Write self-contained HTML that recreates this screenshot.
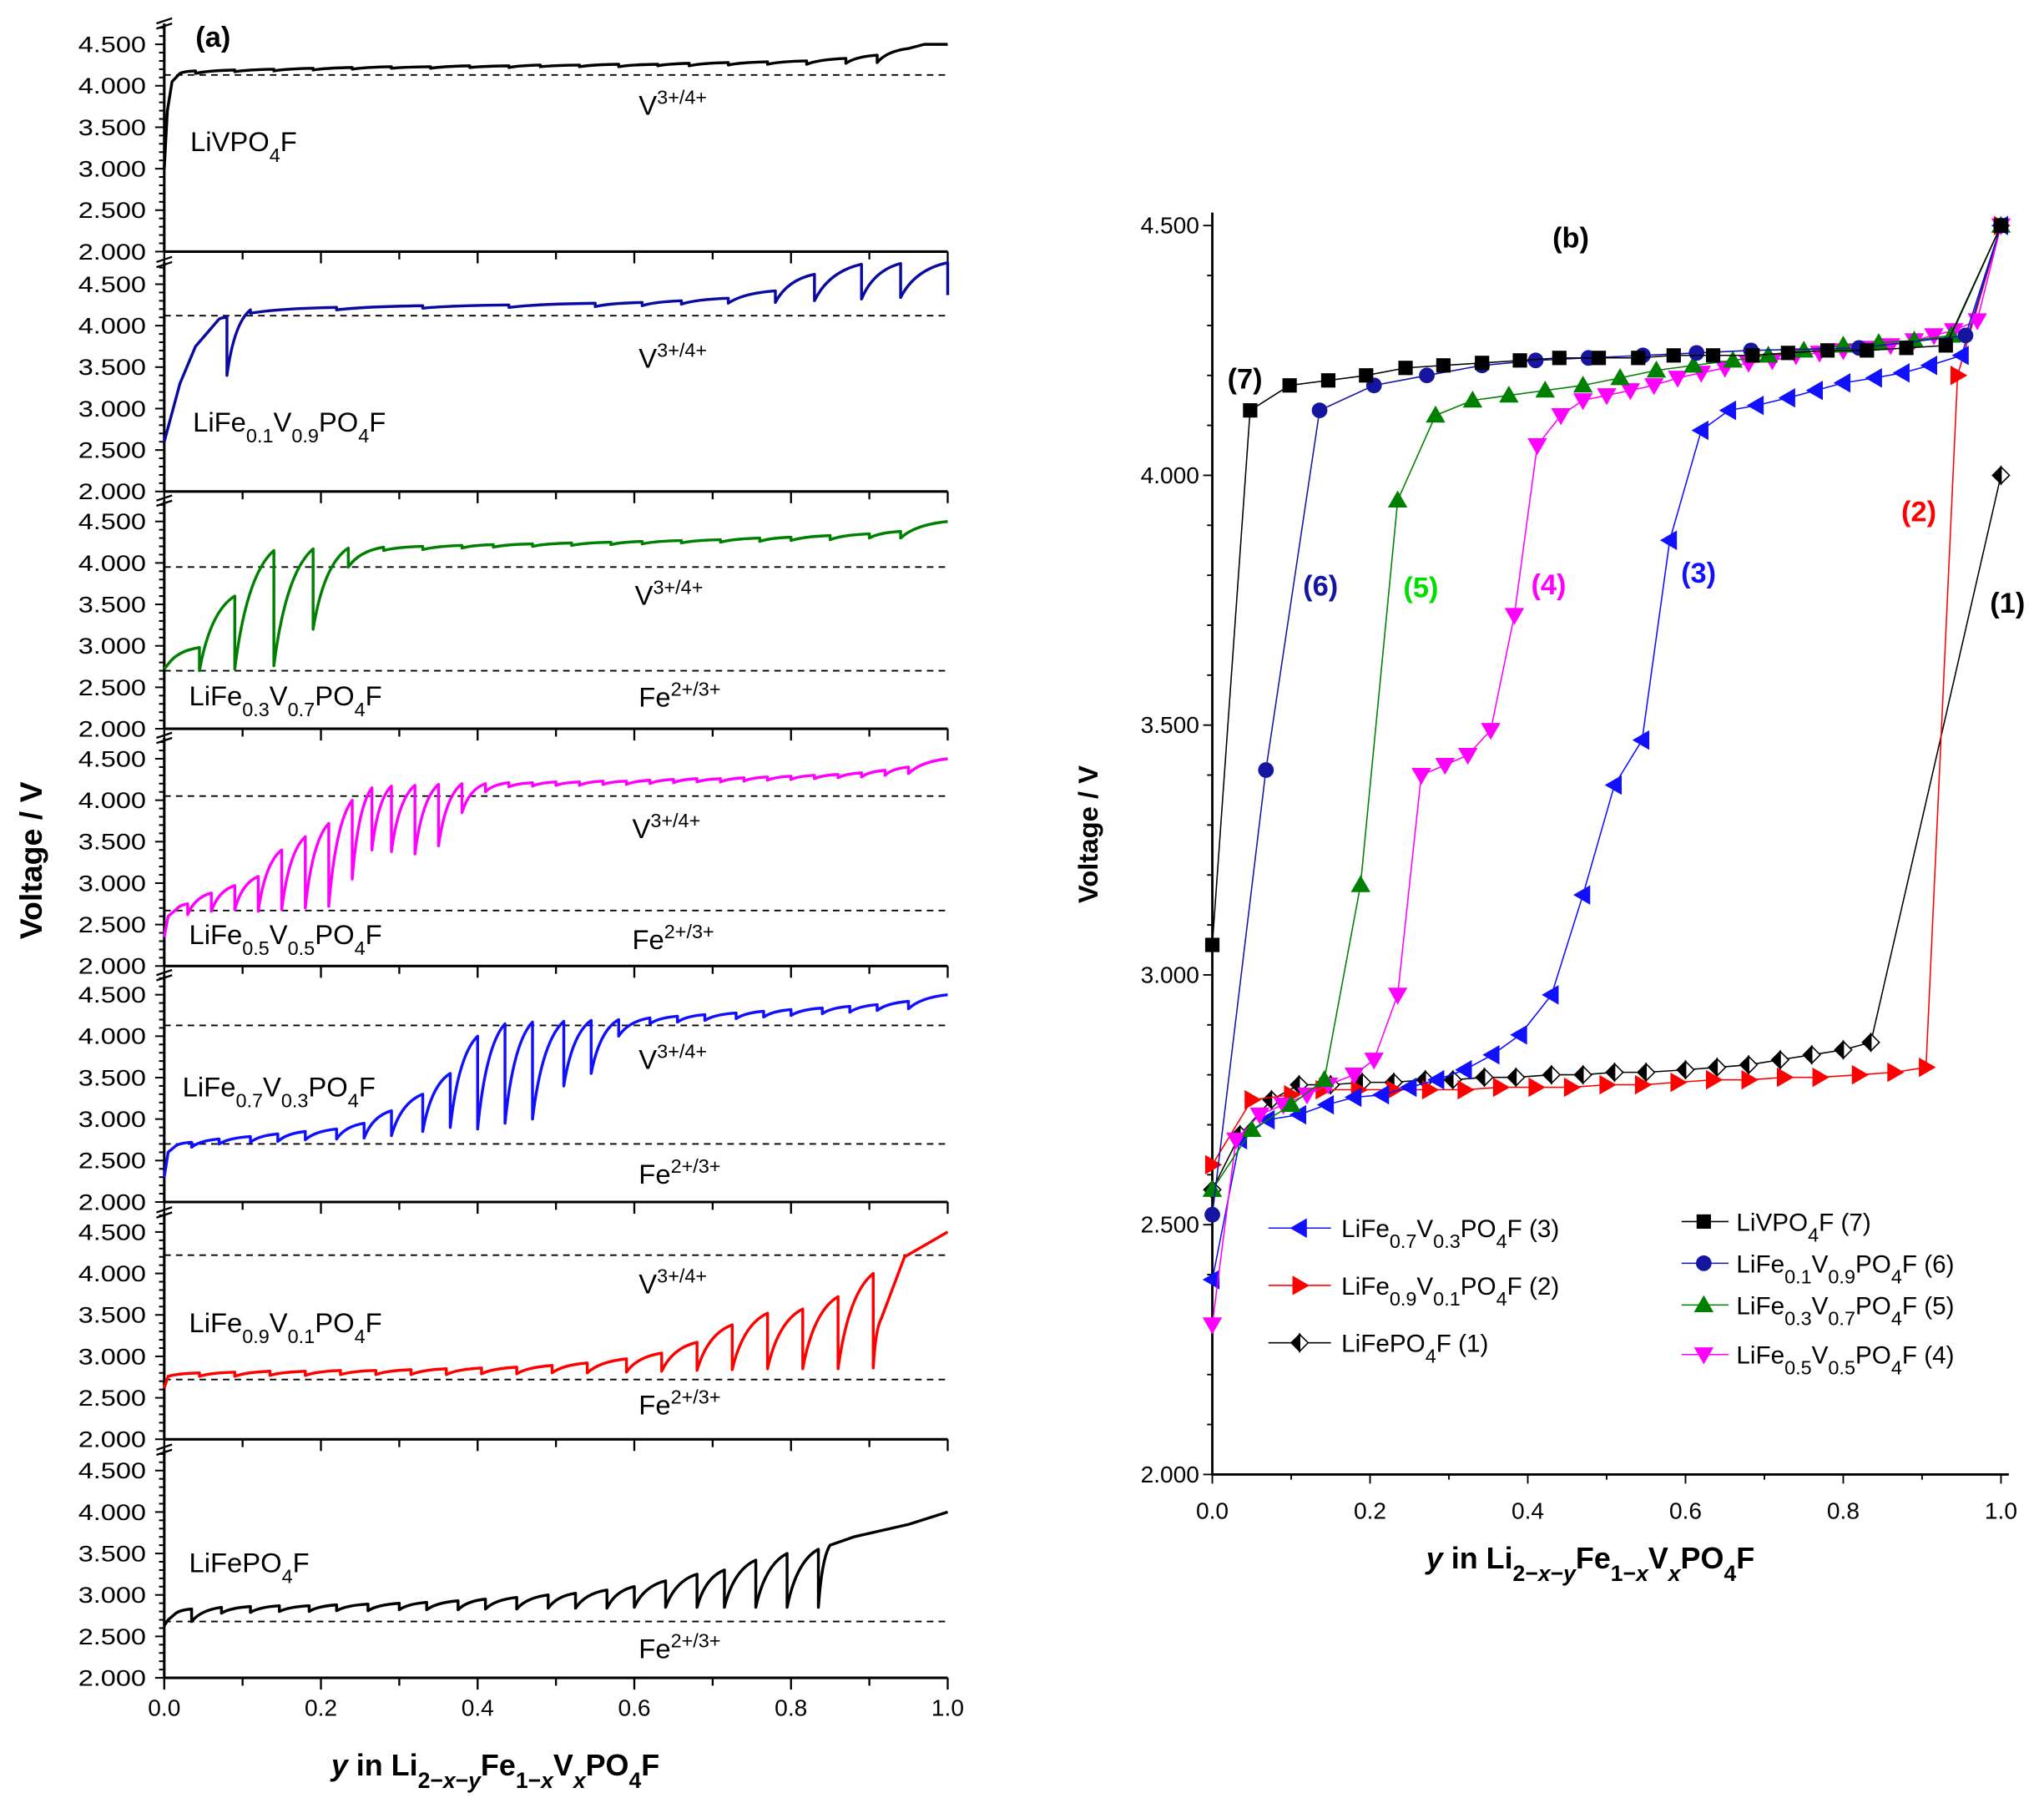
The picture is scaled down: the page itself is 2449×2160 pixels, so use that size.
<!DOCTYPE html>
<html><head><meta charset="utf-8"><style>
html,body{margin:0;padding:0;background:#fff}
svg{display:block}
text{font-family:"Liberation Sans",sans-serif}
</style></head><body>
<svg id="fig" width="2449" height="2160" viewBox="0 0 1568 1383" preserveAspectRatio="none" xmlns="http://www.w3.org/2000/svg">
<g id="pa"></g>
<g id="pb"></g>
</svg>
<script>
// ---------- Panel (a) data: GITT teeth (x position, voltage before relaxation, voltage after) ----------
const aNames = ["LiVPO4F","LiFe0.1V0.9PO4F","LiFe0.3V0.7PO4F","LiFe0.5V0.5PO4F","LiFe0.7V0.3PO4F","LiFe0.9V0.1PO4F","LiFePO4F"];
const aColors = ["#000000","#0a0aa0","#008000","#ff00ff","#1010ff","#ff0000","#000000"];
const aVLine = [4.13,4.12,3.95,4.05,4.13,4.22,null];
const aFeLine = [null,null,2.70,2.67,2.70,2.72,2.68];
// series 1 LiVPO4F
const a1Start = [[0,3.0],[0.004,3.7],[0.01,4.05],[0.02,4.15]];
const a1X = [0.04,0.09,0.14,0.19,0.24,0.29,0.34,0.39,0.44,0.48,0.53,0.58,0.63,0.67,0.72,0.77,0.82,0.87,0.91];
const a1Top = [4.18,4.19,4.20,4.21,4.22,4.23,4.23,4.24,4.24,4.25,4.25,4.26,4.26,4.27,4.28,4.29,4.30,4.33,4.37];
const a1Bot = [4.15,4.17,4.18,4.19,4.20,4.21,4.21,4.22,4.22,4.23,4.23,4.23,4.24,4.24,4.25,4.26,4.26,4.27,4.28];
const a1End = [[0.95,4.45],[0.97,4.50],[1.0,4.50]];
// series 2 LiFe0.1V0.9PO4F
const a2Start = [[0,2.6],[0.02,3.3],[0.04,3.75],[0.07,4.08]];
const a2X = [0.08,0.11,0.22,0.33,0.44,0.55,0.61,0.66,0.72,0.78,0.83,0.89,0.94,1.0];
const a2Top = [4.10,4.19,4.22,4.24,4.25,4.27,4.28,4.30,4.33,4.42,4.62,4.74,4.75,4.76];
const a2Bot = [3.40,4.15,4.19,4.21,4.22,4.23,4.24,4.26,4.27,4.28,4.30,4.32,4.34,4.37];
const a2End = [];
// series 3 LiFe0.3V0.7PO4F
const a3Start = [[0,2.72],[0.005,2.78]];
const a3X = [0.045,0.09,0.14,0.19,0.235,0.28,0.33,0.38,0.42,0.47,0.52,0.57,0.61,0.66,0.71,0.76,0.8,0.85,0.9,0.94];
const a3Top = [2.98,3.60,4.15,4.17,4.18,4.19,4.20,4.21,4.22,4.23,4.24,4.25,4.26,4.27,4.28,4.30,4.31,4.33,4.35,4.38];
const a3Bot = [2.70,2.72,2.76,3.20,3.95,4.15,4.16,4.18,4.19,4.20,4.21,4.22,4.23,4.24,4.25,4.26,4.27,4.28,4.30,4.30];
const a3End = [[1.0,4.5]];
// series 4 LiFe0.5V0.5PO4F
const a4Start = [[0,2.35],[0.005,2.6],[0.015,2.68]];
const a4X = [0.03,0.06,0.09,0.12,0.15,0.18,0.21,0.24,0.265,0.29,0.32,0.35,0.38,0.41,0.44,0.47,0.5,0.53,0.56,0.59,0.62,0.65,0.68,0.71,0.74,0.77,0.8,0.83,0.86,0.89,0.92,0.95];
const a4Top = [2.75,2.88,2.97,3.08,3.40,3.56,3.72,4.00,4.15,4.17,4.18,4.19,4.20,4.20,4.21,4.21,4.22,4.22,4.23,4.23,4.24,4.25,4.26,4.26,4.27,4.28,4.29,4.30,4.31,4.33,4.36,4.40];
const a4Bot = [2.62,2.66,2.68,2.66,2.68,2.70,2.72,3.05,3.40,3.38,3.35,3.45,3.85,4.10,4.16,4.17,4.18,4.18,4.19,4.19,4.20,4.21,4.22,4.22,4.23,4.24,4.25,4.26,4.27,4.28,4.30,4.32];
const a4End = [[1.0,4.5]];
// series 5 LiFe0.7V0.3PO4F
const a5Start = [[0,2.3],[0.005,2.6],[0.015,2.68]];
const a5X = [0.035,0.07,0.11,0.145,0.18,0.22,0.255,0.29,0.33,0.365,0.40,0.435,0.47,0.51,0.545,0.58,0.62,0.655,0.69,0.73,0.765,0.8,0.84,0.875,0.91,0.95];
const a5Top = [2.72,2.76,2.79,2.82,2.85,2.88,2.95,3.10,3.30,3.55,4.00,4.15,4.17,4.18,4.19,4.20,4.22,4.24,4.26,4.28,4.30,4.32,4.34,4.36,4.38,4.42];
const a5Bot = [2.66,2.70,2.72,2.73,2.75,2.76,2.77,2.80,2.85,2.90,2.88,2.95,3.00,3.40,3.55,4.00,4.15,4.17,4.19,4.21,4.23,4.25,4.27,4.29,4.31,4.33];
const a5End = [[1.0,4.5]];
// series 6 LiFe0.9V0.1PO4F
const a6Start = [[0,2.62],[0.005,2.76]];
const a6X = [0.045,0.09,0.135,0.18,0.225,0.27,0.315,0.36,0.405,0.45,0.495,0.54,0.59,0.635,0.68,0.725,0.77,0.815,0.86,0.905];
const a6Top = [2.80,2.81,2.82,2.82,2.83,2.83,2.84,2.85,2.86,2.87,2.89,2.92,2.97,3.04,3.17,3.38,3.52,3.57,3.72,4.00];
const a6Bot = [2.76,2.76,2.77,2.77,2.78,2.78,2.78,2.78,2.79,2.79,2.80,2.80,2.81,2.82,2.83,2.84,2.85,2.85,2.85,2.86];
const a6End = [[0.915,3.45],[0.945,4.2],[1.0,4.5]];
// series 7 LiFePO4F
const a7Start = [[0,2.63],[0.005,2.7],[0.015,2.78]];
const a7X = [0.035,0.073,0.11,0.147,0.185,0.22,0.26,0.3,0.335,0.375,0.41,0.45,0.49,0.525,0.565,0.6,0.64,0.68,0.715,0.755,0.795,0.835];
const a7Top = [2.83,2.85,2.86,2.87,2.87,2.88,2.89,2.90,2.91,2.93,2.95,2.97,3.00,3.02,3.06,3.10,3.17,3.25,3.30,3.42,3.50,3.55];
const a7Bot = [2.68,2.78,2.79,2.80,2.80,2.81,2.81,2.82,2.82,2.82,2.83,2.83,2.84,2.84,2.84,2.85,2.85,2.85,2.85,2.85,2.85,2.85];
const a7End = [[0.85,3.6],[0.88,3.7],[0.95,3.85],[1.0,4.0]];

const aSeries = [
 [a1Start,a1X,a1Top,a1Bot,a1End],[a2Start,a2X,a2Top,a2Bot,a2End],[a3Start,a3X,a3Top,a3Bot,a3End],
 [a4Start,a4X,a4Top,a4Bot,a4End],[a5Start,a5X,a5Top,a5Bot,a5End],[a6Start,a6X,a6Top,a6Bot,a6End],
 [a7Start,a7X,a7Top,a7Bot,a7End]];
const aYTicks = ["2.000","2.500","3.000","3.500","4.000","4.500"];
const aXTicks = ["0.0","0.2","0.4","0.6","0.8","1.0"];

// ---------- Panel (b) data ----------
const b7x=[0,0.048,0.098,0.147,0.195,0.245,0.293,0.342,0.39,0.44,0.49,0.54,0.585,0.635,0.685,0.73,0.78,0.83,0.88,0.93,1.0];
const b7v=[3.06,4.13,4.18,4.19,4.2,4.215,4.22,4.225,4.23,4.235,4.235,4.235,4.24,4.24,4.24,4.245,4.25,4.25,4.255,4.26,4.5];
const b6x=[0,0.068,0.136,0.205,0.272,0.342,0.41,0.477,0.546,0.614,0.683,0.82,0.955,1.0];
const b6v=[2.52,3.41,4.13,4.18,4.2,4.22,4.23,4.235,4.24,4.245,4.25,4.255,4.28,4.5];
const b5x=[0,0.05,0.1,0.142,0.188,0.235,0.283,0.33,0.376,0.422,0.47,0.517,0.563,0.61,0.66,0.705,0.75,0.8,0.845,0.89,0.937,1.0];
const b5v=[2.57,2.69,2.74,2.79,3.18,3.95,4.12,4.15,4.16,4.17,4.18,4.195,4.21,4.22,4.23,4.24,4.25,4.26,4.265,4.27,4.28,4.5];
const b4x=[0,0.03,0.06,0.09,0.12,0.147,0.18,0.205,0.235,0.265,0.295,0.324,0.353,0.383,0.412,0.442,0.47,0.5,0.53,0.56,0.59,0.62,0.65,0.68,0.71,0.74,0.77,0.8,0.83,0.86,0.89,0.915,0.94,0.97,1.0];
const b4v=[2.30,2.67,2.72,2.74,2.76,2.78,2.8,2.83,2.96,3.40,3.42,3.44,3.49,3.72,4.06,4.12,4.15,4.16,4.17,4.18,4.195,4.205,4.215,4.225,4.23,4.24,4.245,4.25,4.255,4.26,4.27,4.28,4.29,4.31,4.5];
const b3x=[0,0.035,0.07,0.11,0.145,0.18,0.215,0.25,0.285,0.32,0.355,0.39,0.43,0.47,0.51,0.545,0.58,0.62,0.655,0.69,0.73,0.765,0.8,0.84,0.875,0.91,0.95,1.0];
const b3v=[2.39,2.67,2.71,2.72,2.74,2.755,2.76,2.775,2.79,2.81,2.84,2.88,2.96,3.16,3.38,3.47,3.87,4.09,4.13,4.14,4.155,4.17,4.185,4.195,4.205,4.22,4.24,4.5];
const b2x=[0,0.05,0.1,0.14,0.185,0.23,0.275,0.32,0.365,0.41,0.455,0.5,0.545,0.59,0.635,0.68,0.725,0.77,0.82,0.865,0.905,0.945,1.0];
const b2v=[2.62,2.75,2.76,2.77,2.77,2.77,2.77,2.77,2.775,2.775,2.775,2.78,2.78,2.785,2.79,2.79,2.795,2.795,2.8,2.805,2.815,4.2,4.5];
const b1x=[0,0.035,0.075,0.11,0.15,0.19,0.23,0.27,0.305,0.345,0.385,0.43,0.47,0.51,0.55,0.6,0.64,0.68,0.72,0.76,0.8,0.835,1.0];
const b1v=[2.57,2.68,2.75,2.78,2.78,2.785,2.785,2.79,2.79,2.795,2.795,2.8,2.8,2.805,2.805,2.81,2.815,2.82,2.83,2.84,2.85,2.865,4.0];
const bYTicks=["2.000","2.500","3.000","3.500","4.000","4.500"];
const bXTicks=["0.0","0.2","0.4","0.6","0.8","1.0"];

const NS="http://www.w3.org/2000/svg";
function mk(parent,tag,attrs){const e=document.createElementNS(NS,tag);for(const k in attrs)e.setAttribute(k,attrs[k]);parent.appendChild(e);return e;}
function txt(parent,x,y,html,size,anchor,extra){const t=mk(parent,"text",{x:x,y:y,"font-size":size,"text-anchor":anchor||"start"});if(extra)for(const k in extra)t.setAttribute(k,extra[k]);t.innerHTML=html;return t;}

// ---------- draw panel a ----------
const pa=document.getElementById("pa");
const AX0=126, AX1=727;
const aBottoms=[193,377,559,741,922,1104,1287];
const aTops=[12,195,378,560,742,924,1106];
const VPX=63.6;
function ax(x){return AX0+x*(AX1-AX0);}
function ay(p,v){return aBottoms[p]-(v-2)*VPX;}
const sub=(s)=>'<tspan baseline-shift="sub" font-size="15">'+s+'</tspan>';
const aLabelHtml=["LiVPO"+sub("4")+"F","LiFe"+sub("0.1")+"V"+sub("0.9")+"PO"+sub("4")+"F","LiFe"+sub("0.3")+"V"+sub("0.7")+"PO"+sub("4")+"F","LiFe"+sub("0.5")+"V"+sub("0.5")+"PO"+sub("4")+"F","LiFe"+sub("0.7")+"V"+sub("0.3")+"PO"+sub("4")+"F","LiFe"+sub("0.9")+"V"+sub("0.1")+"PO"+sub("4")+"F","LiFePO"+sub("4")+"F"];
const aLabelPos=[[146,116],[148,331],[145,541],[145,724],[140,841],[145,1022],[145,1206]];
const aVPos=[[490,88],[490,282],[487,464],[485,643],[490,820],[490,992],null];
const aFePos=[null,null,[490,542],[485,728],[490,908],[490,1085],[490,1272]];
const sup=(s)=>'<tspan baseline-shift="super" font-size="15">'+s+'</tspan>';
for(let p=0;p<7;p++){
  const g=mk(pa,"g",{});
  
  
  const xl=mk(g,"line",{x1:AX0,y1:aBottoms[p],x2:AX1,y2:aBottoms[p],stroke:"#000","stroke-width":2});
  
  
  for(let i=0;i<=10;i++){
    const x=ax(i/10);const len=i%2==0?9:6;
    mk(g,"line",{x1:x,y1:aBottoms[p],x2:x,y2:aBottoms[p]+len,stroke:"#000","stroke-width":1.5});
  }
  const yl=mk(g,"line",{x1:AX0,y1:aTops[p]+6,x2:AX0,y2:aBottoms[p],stroke:"#000","stroke-width":2});
  
  
  for(let k=0;k<=27;k++){
    const v=2+k*0.1;const y=ay(p,v);if(y<aTops[p]+6)continue;
    const major=(k%5==0);
    mk(g,"line",{x1:AX0-(major?7:4),y1:y,x2:AX0,y2:y,stroke:"#000","stroke-width":1.3});
  }
  aYTicks.forEach((t,i)=>{
    const tl=txt(g,112,ay(p,2+i*0.5)+6,t,17,"end",{"textLength":52,"lengthAdjust":"spacingAndGlyphs"});
    
    
  });
  mk(g,"path",{d:`M${AX0-6},${aTops[p]+6} L${AX0+6},${aTops[p]+2} M${AX0-6},${aTops[p]+10} L${AX0+6},${aTops[p]+6}`,stroke:"#000","stroke-width":1.5,fill:"none"});
  if(aVLine[p]!==null){const d=mk(g,"line",{x1:AX0,y1:ay(p,aVLine[p]),x2:AX1,y2:ay(p,aVLine[p]),stroke:"#000","stroke-width":1.2,"stroke-dasharray":"5,4"});
    }
  if(aFeLine[p]!==null){const d=mk(g,"line",{x1:AX0,y1:ay(p,aFeLine[p]),x2:AX1,y2:ay(p,aFeLine[p]),stroke:"#000","stroke-width":1.2,"stroke-dasharray":"5,4"});
    }
  const [st,xs,tp,bt,en]=aSeries[p];
  let d="";
  st.forEach((pt,i)=>{d+=(i==0?"M":"L")+ax(pt[0]).toFixed(1)+","+ay(p,pt[1]).toFixed(1)+" ";});
  let px=st[st.length-1][0], pv=st[st.length-1][1];
  const seg=(x0,v0,x1,v1)=>{const X0=ax(x0),Y0=ay(p,v0),X1=ax(x1),Y1=ay(p,v1);
    return "Q"+(X0+(X1-X0)*0.3).toFixed(1)+","+(Y0+(Y1-Y0)*0.8).toFixed(1)+" "+X1.toFixed(1)+","+Y1.toFixed(1)+" ";};
  for(let i=0;i<xs.length;i++){
    d+=seg(px,pv,xs[i],tp[i])+"L"+ax(xs[i]).toFixed(1)+","+ay(p,bt[i]).toFixed(1)+" ";
    px=xs[i];pv=bt[i];
  }
  en.forEach((pt,i)=>{
    if(i==0&&xs.length) d+=seg(px,pv,pt[0],pt[1]);
    else d+="L"+ax(pt[0]).toFixed(1)+","+ay(p,pt[1]).toFixed(1)+" ";
  });
  const path=mk(g,"path",{d:d,fill:"none",stroke:aColors[p],"stroke-width":2.2,"stroke-linejoin":"round"});
  
  
  const lb=txt(g,aLabelPos[p][0],aLabelPos[p][1],aLabelHtml[p],21,"start");
  
  
  if(aVPos[p]){const t=txt(g,aVPos[p][0],aVPos[p][1],"V"+sup("3+/4+"),21);}
  if(aFePos[p]){const t=txt(g,aFePos[p][0],aFePos[p][1],"Fe"+sup("2+/3+"),21);}
}
aXTicks.forEach((t,i)=>{const e=txt(pa,ax(i*0.2),1316,t,18,"middle");});
{const e=txt(pa,150,36,"(a)",22,"start",{"font-weight":"bold"});}
{const e=txt(pa,380,1362,'<tspan font-style="italic">y</tspan> in Li<tspan baseline-shift="sub" font-size="17">2−<tspan font-style="italic">x</tspan>−<tspan font-style="italic">y</tspan></tspan>Fe<tspan baseline-shift="sub" font-size="17">1−<tspan font-style="italic">x</tspan></tspan>V<tspan baseline-shift="sub" font-size="17"><tspan font-style="italic">x</tspan></tspan>PO<tspan baseline-shift="sub" font-size="17">4</tspan>F',23,"middle",{"font-weight":"bold"});}
{const e=txt(pa,0,0,"Voltage / V",24,"middle",{"font-weight":"bold",transform:"translate(32,660) rotate(-90)"});}

// ---------- draw panel b ----------
const pb=document.getElementById("pb");
const BX0=930,BX1=1535,BY0=1131,BY1=173;
function bx(x){return BX0+x*(BX1-BX0);}
function by(v){return BY0-(v-2)/2.5*(BY0-BY1);}
{const l=mk(pb,"line",{x1:BX0,y1:BY1-10,x2:BX0,y2:BY0,stroke:"#000","stroke-width":1.8});}
{const l=mk(pb,"line",{x1:BX0,y1:BY0,x2:BX1+6,y2:BY0,stroke:"#000","stroke-width":1.8});}
for(let k=0;k<=25;k++){const y=by(2+k*0.1);const major=k%5==0;mk(pb,"line",{x1:BX0-(major?7:4),y1:y,x2:BX0,y2:y,stroke:"#000","stroke-width":1.2});}
for(let k=0;k<=10;k++){const x=bx(k/10);mk(pb,"line",{x1:x,y1:BY0,x2:x,y2:BY0+(k%2==0?7:4),stroke:"#000","stroke-width":1.2});}
bYTicks.forEach((t,i)=>{const e=txt(pb,BX0-10,by(2+i*0.5)+6,t,18,"end");});
bXTicks.forEach((t,i)=>{const e=txt(pb,bx(i*0.2),1165,t,18,"middle");});
{const e=txt(pb,1205,190,"(b)",22,"middle",{"font-weight":"bold"});}
{const e=txt(pb,1220,1203,'<tspan font-style="italic">y</tspan> in Li<tspan baseline-shift="sub" font-size="17">2−<tspan font-style="italic">x</tspan>−<tspan font-style="italic">y</tspan></tspan>Fe<tspan baseline-shift="sub" font-size="17">1−<tspan font-style="italic">x</tspan></tspan>V<tspan baseline-shift="sub" font-size="17"><tspan font-style="italic">x</tspan></tspan>PO<tspan baseline-shift="sub" font-size="17">4</tspan>F',23,"middle",{"font-weight":"bold"});}
{const e=txt(pb,0,0,"Voltage / V",21,"middle",{"font-weight":"bold",transform:"translate(842,640) rotate(-90)"});}

function marker(g,type,x,y,color){
  const s=6.5;let e;
  if(type=="square")e=mk(g,"rect",{x:x-s+1,y:y-s+1,width:2*s-2,height:2*s-2,fill:color});
  else if(type=="circle")e=mk(g,"circle",{cx:x,cy:y,r:s-0.5,fill:color});
  else if(type=="up")e=mk(g,"path",{d:`M${x},${y-s-1} L${x+s+1},${y+s-1} L${x-s-1},${y+s-1}Z`,fill:color});
  else if(type=="down")e=mk(g,"path",{d:`M${x},${y+s+1} L${x+s+1},${y-s+1} L${x-s-1},${y-s+1}Z`,fill:color});
  else if(type=="left")e=mk(g,"path",{d:`M${x-s-1},${y} L${x+s-1},${y-s-1} L${x+s-1},${y+s+1}Z`,fill:color});
  else if(type=="right")e=mk(g,"path",{d:`M${x+s+1},${y} L${x-s+1},${y-s-1} L${x-s+1},${y+s+1}Z`,fill:color});
  else {e=mk(g,"g",{});mk(e,"path",{d:`M${x},${y-s} L${x+s},${y} L${x},${y+s}Z`,fill:"#fff",stroke:"#000","stroke-width":1});mk(e,"path",{d:`M${x},${y-s} L${x-s},${y} L${x},${y+s}Z`,fill:"#000",stroke:"#000","stroke-width":1});}
  
  
}
const bSeries=[
 {x:b1x,v:b1v,c:"#000000",m:"diamond",n:"series-lifepo4f"},
 {x:b2x,v:b2v,c:"#ff0000",m:"right",n:"series-fe09"},
 {x:b3x,v:b3v,c:"#1010ff",m:"left",n:"series-fe07"},
 {x:b4x,v:b4v,c:"#ff00ff",m:"down",n:"series-fe05"},
 {x:b5x,v:b5v,c:"#008000",m:"up",n:"series-fe03"},
 {x:b6x,v:b6v,c:"#1515a0",m:"circle",n:"series-fe01"},
 {x:b7x,v:b7v,c:"#000000",m:"square",n:"series-livpo4f"}];
bSeries.forEach(s=>{
  const g=mk(pb,"g",{});
  
  
  let d="";s.x.forEach((x,i)=>{d+=(i?"L":"M")+bx(x).toFixed(1)+","+by(s.v[i]).toFixed(1)+" ";});
  mk(g,"path",{d:d,fill:"none",stroke:s.c,"stroke-width":1});
  s.x.forEach((x,i)=>marker(g,s.m,bx(x),by(s.v[i]),s.c));
});
const bNum=[["(7)",955,298,"#000"],["(6)",1013,457,"#1515a0"],["(5)",1090,458,"#00dd00"],["(4)",1188,456,"#ff00ff"],["(3)",1303,447,"#1010ff"],["(2)",1472,400,"#ff0000"],["(1)",1540,470,"#000"]];
bNum.forEach(a=>{const e=txt(pb,a[1],a[2],a[0],22,"middle",{"font-weight":"bold",fill:a[3]});});
const lg=mk(pb,"g",{});


const legL=[["LiFe"+sub("0.7")+"V"+sub("0.3")+"PO"+sub("4")+"F (3)","#1010ff","left",942],["LiFe"+sub("0.9")+"V"+sub("0.1")+"PO"+sub("4")+"F (2)","#ff0000","right",986],["LiFePO"+sub("4")+"F (1)","#000","diamond",1030]];
const legR=[["LiVPO"+sub("4")+"F (7)","#000","square",937],["LiFe"+sub("0.1")+"V"+sub("0.9")+"PO"+sub("4")+"F (6)","#1515a0","circle",969],["LiFe"+sub("0.3")+"V"+sub("0.7")+"PO"+sub("4")+"F (5)","#008000","up",1001],["LiFe"+sub("0.5")+"V"+sub("0.5")+"PO"+sub("4")+"F (4)","#ff00ff","down",1039]];
legL.forEach(l=>{const e=mk(lg,"g",{});
  mk(e,"line",{x1:973,y1:l[3],x2:1021,y2:l[3],stroke:l[1],"stroke-width":1});marker(e,l[2],997,l[3],l[1]);txt(e,1029,l[3]+7,l[0],19);});
legR.forEach(l=>{const e=mk(lg,"g",{});
  mk(e,"line",{x1:1290,y1:l[3],x2:1326,y2:l[3],stroke:l[1],"stroke-width":1});marker(e,l[2],1307,l[3],l[1]);txt(e,1332,l[3]+7,l[0],19);});
</script>
</body></html>
